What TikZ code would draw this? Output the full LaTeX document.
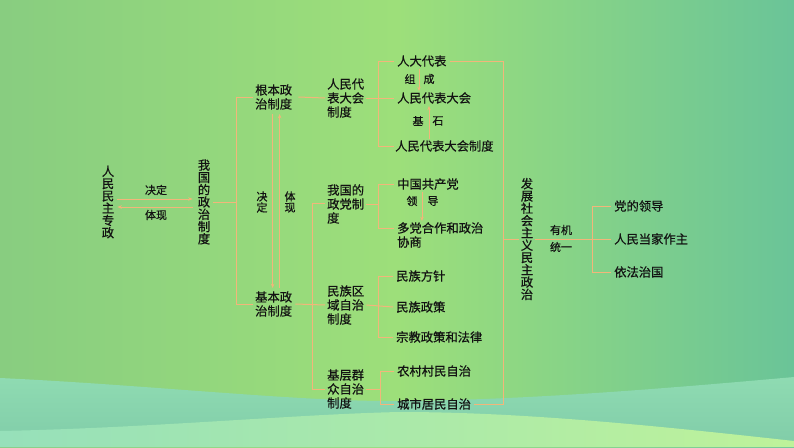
\documentclass[tikz,border=0pt]{standalone}
\usepackage{fontspec}
\newfontfamily\cjk[FakeBold=0.6]{Noto Sans CJK SC}
\usetikzlibrary{arrows.meta,calc}
\definecolor{lnc}{RGB}{242,182,122}
\definecolor{txc}{RGB}{18,18,18}
\definecolor{bgl}{RGB}{136,205,128}
\definecolor{bgm}{RGB}{157,223,122}
\definecolor{bgr}{RGB}{106,196,152}
\definecolor{bandt}{RGB}{143,219,178}
\definecolor{bandb}{RGB}{128,204,168}
\definecolor{lowl}{RGB}{150,224,186}
\definecolor{lowr}{RGB}{190,242,154}
\tikzset{
  tx/.style={font=\cjk\fontsize{12.3}{14}\selectfont, text=txc, inner sep=0pt, align=left},
  vt/.style={font=\cjk\fontsize{12.3}{12.3}\selectfont, text=txc, inner sep=0pt, align=center},
  lb/.style={font=\cjk\fontsize{11}{11}\selectfont, text=txc, inner sep=0pt, align=center},
  ln/.style={draw=lnc, line width=1pt},
  arr/.style={draw=lnc, line width=1pt, -{Stealth[length=4.5pt,width=3.5pt]}},
}
\begin{document}
\begin{tikzpicture}[x=1pt,y=-1pt]
% background
\useasboundingbox (0,0) rectangle (794,447);
\shade[left color=bgl, right color=bgr, middle color=bgm] (0,0) rectangle (794,447);
\shade[top color=bandt, bottom color=bandb]
  (0,378) .. controls (150,385) and (300,402) .. (400,401)
  .. controls (520,400) and (650,390) .. (794,377) -- (794,447) -- (0,447) -- cycle;
\shade[left color=lowl, right color=lowr]
  (0,431) .. controls (150,428) and (300,414) .. (400,412)
  .. controls (520,412) and (650,425) .. (794,441) -- (794,447) -- (0,447) -- cycle;

% nodes
\node[vt] (A) at (108,202) {人\\民\\民\\主\\专\\政};
\node[vt] (B) at (204,202) {我\\国\\的\\政\\治\\制\\度};
\node[lb] (LA1) at (156,190) {决定};
\node[lb] (LA2) at (156,215) {体现};

\node[tx, anchor=west] (C1) at (255,97) {根本政\\治制度};
\node[tx, anchor=west] (C2) at (255,304) {基本政\\治制度};
\node[lb] (LB1) at (262,202) {决\\定};
\node[lb] (LB2) at (290,202) {体\\现};

\node[tx, anchor=west] (D1) at (327,98) {人民代\\表大会\\制度};
\node[tx, anchor=west] (E1) at (397,61) {人大代表};
\node[tx, anchor=west] (E2) at (397,98) {人民代表大会};
\node[tx, anchor=west] (E3) at (395,146) {人民代表大会制度};
\node[lb] (LC1) at (410,79) {组};
\node[lb] (LC2) at (429,79) {成};
\node[lb] (LC3) at (418,121) {基};
\node[lb] (LC4) at (438,121) {石};

\node[tx, anchor=west] (F1) at (327,204) {我国的\\政党制\\度};
\node[tx, anchor=west] (F2) at (327,305) {民族区\\域自治\\制度};
\node[tx, anchor=west] (F3) at (327,389) {基层群\\众自治\\制度};

\node[tx, anchor=west] (G1) at (397,184) {中国共产党};
\node[tx, anchor=west] (G2) at (397,228) {多党合作和政治};
\node[tx, anchor=west] (G3) at (397,242) {协商};
\node[lb] (LD1) at (412,201) {领};
\node[lb] (LD2) at (433,201) {导};

\node[tx, anchor=west] (H1) at (396,276) {民族方针};
\node[tx, anchor=west] (H2) at (396,307) {民族政策};
\node[tx, anchor=west] (H3) at (396,337) {宗教政策和法律};

\node[tx, anchor=west] (I1) at (397,371) {农村村民自治};
\node[tx, anchor=west] (I2) at (397,404) {城市居民自治};

\node[vt] (J) at (527,239) {发\\展\\社\\会\\主\\义\\民\\主\\政\\治};
\node[lb] (LE1) at (561,230) {有机};
\node[lb] (LE2) at (561,247) {统一};

\node[tx, anchor=west] (K1) at (614,206) {党的领导};
\node[tx, anchor=west] (K2) at (614,239) {人民当家作主};
\node[tx, anchor=west] (K3) at (614,272) {依法治国};

% helper x positions
\coordinate (k1) at (236,0);
\coordinate (k2) at (378,0);
\coordinate (k3) at (312,0);
\coordinate (k5) at (380,0);
\coordinate (k6) at (592,0);
\coordinate (rx) at (503,0);
\coordinate (xa) at (419,0);
\coordinate (xb) at (429,0);
\coordinate (xc) at (422,0);

% left arrows
\draw[arr] ($(A.east)+(3,-3)$) -- ($(B.west)+(-5,-3)$);
\draw[arr] ($(B.west)+(-5,5)$) -- ($(A.east)+(3,5)$);

% bracket 1
\draw[ln] ($(B.east)+(3,0)$) -- (k1 |- B.east);
\draw[ln] ($(C1.west)+(-2,0)$) -| (k1 |- C2.west) -- ($(C2.west)+(-2,0)$);

% vertical arrows between C1 and C2
\draw[arr] ($(C1.south)+(-1,4)$) -- ($(C2.north)+(-1,-3)$);
\draw[arr] ($(C2.north)+(6,-3)$) -- ($(C1.south)+(6,4)$);

% C1 -> D1
\draw[ln] ($(C1.east)+(6,0)$) -- ($(D1.west)+(-2,0)$);
% D1 bracket
\draw[ln] ($(D1.east)+(2,0)$) -- ($(E2.west)+(-3,0)$);
\draw[ln] ($(E1.west)+(-3,0)$) -| (k2 |- E3.west) -- ($(E3.west)+(-1,0)$);
\draw[arr] ($(xa |- E1.south)+(0,2)$) -- ($(xa |- E2.north)+(0,-1)$);
\draw[arr] ($(xb |- E3.north)+(0,-1)$) -- ($(xb |- E2.south)+(0,2)$);

% right collector
\draw[ln] ($(E1.east)+(3,0)$) -| (rx |- I2.east) -- ($(I2.east)+(3,0)$);
\draw[ln] (rx |- J.west) -- ($(J.west)+(-2,0)$);

% bracket 3
\draw[ln] ($(C2.east)+(3,0)$) -- ($(F2.west)+(-2,0)$);
\draw[ln] ($(F1.west)+(-2,-1)$) -| (k3 |- F3.west) -- ($(F3.west)+(-2,0)$);

% F1 bracket
\draw[ln] ($(F1.east)+(2,0)$) -- (k2 |- F1.east);
\draw[ln] ($(G1.west)+(-3,0)$) -| (k2 |- G2.west) -- ($(G2.west)+(-3,0)$);
\draw[arr] ($(xc |- G1.south)+(0,2)$) -- ($(xc |- G2.north)+(0,-1)$);

% F2 bracket
\draw[ln] ($(F2.east)+(2,0)$) -- ($(H2.west)+(-3,0)$);
\draw[ln] ($(H1.west)+(-3,0)$) -| (k2 |- H3.west) -- ($(H3.west)+(-3,0)$);

% F3 bracket
\draw[ln] ($(F3.east)+(2,0)$) -- (k5 |- F3.east);
\draw[ln] ($(I1.west)+(-3,0)$) -| (k5 |- I2.west) -- ($(I2.west)+(-3,0)$);

% J -> K
\draw[ln] ($(J.east)+(2,0)$) -- ($(K2.west)+(-3,0)$);
\draw[ln] ($(K1.west)+(-3,0)$) -| (k6 |- K3.west) -- ($(K3.west)+(-3,0)$);
\end{tikzpicture}
\end{document}
